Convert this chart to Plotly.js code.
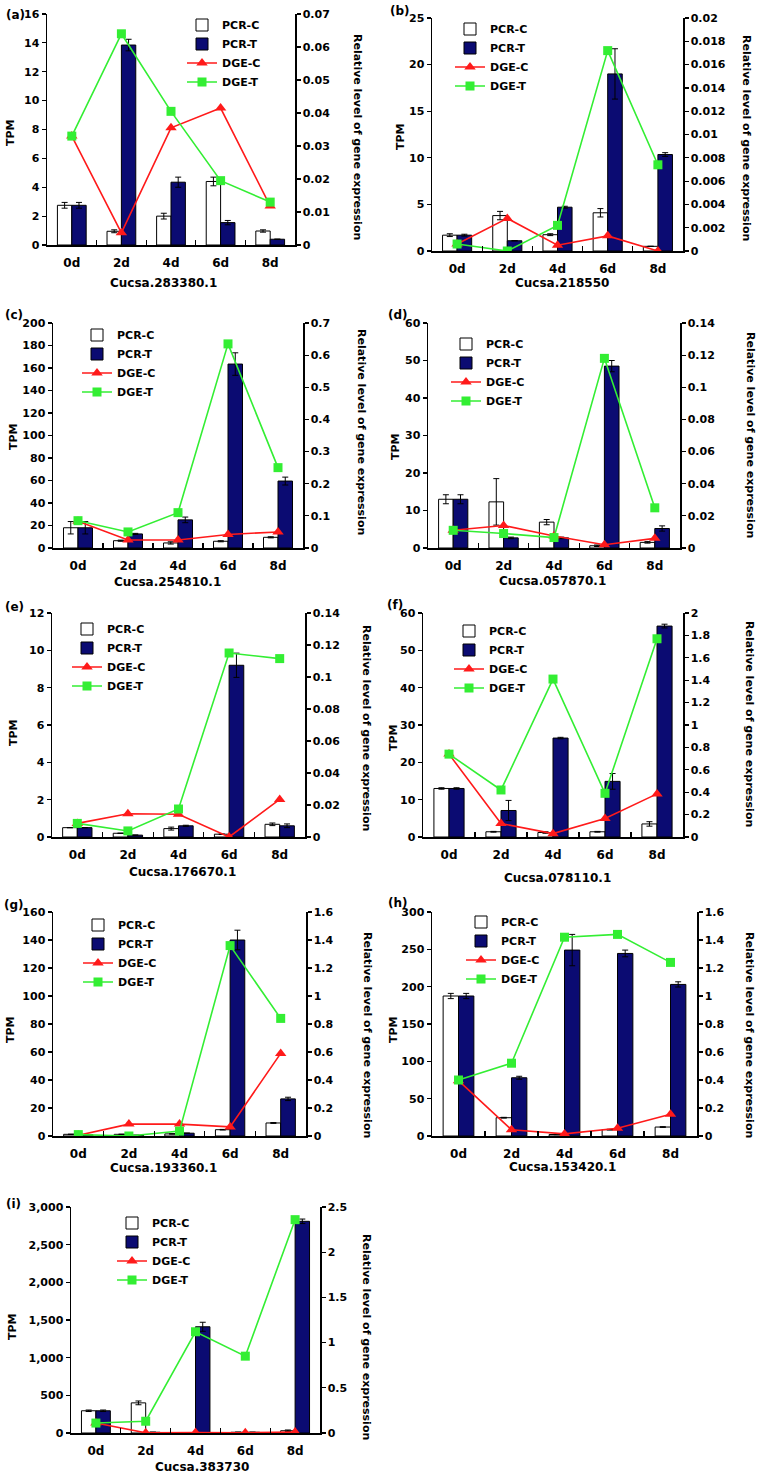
<!DOCTYPE html>
<html>
<head>
<meta charset="utf-8">
<script src="https://cdn.plot.ly/plotly-3.0.1.min.js"></script>
<style>html,body{margin:0;padding:0;background:#fff;}</style>
</head>
<body>
<div id="chart" style="width:759px;height:1477px;"></div>
<script>
// ---------------- DATA ----------------
const days = ['0d', '2d', '4d', '6d', '8d'];
const genes = ['Cucsa.283380.1', 'Cucsa.218550', 'Cucsa.254810.1', 'Cucsa.057870.1', 'Cucsa.176670.1',
               'Cucsa.078110.1', 'Cucsa.193360.1', 'Cucsa.153420.1', 'Cucsa.383730'];
const panelLabels = ['(a)', '(b)', '(c)', '(d)', '(e)', '(f)', '(g)', '(h)', '(i)'];
const seriesNames = ['PCR-C', 'PCR-T', 'DGE-C', 'DGE-T'];
const leftTitle = 'TPM';
const rightTitle = 'Relative level of gene expression';

const pcrC_a = [2.75, 0.95, 2.0, 4.4, 0.97];   const pcrCErr_a = [0.2, 0.1, 0.2, 0.3, 0.08];
const pcrT_a = [2.75, 13.85, 4.35, 1.55, 0.4]; const pcrTErr_a = [0.2, 0.4, 0.35, 0.15, 0];
const dgeC_a = [0.033, 0.0037, 0.0355, 0.0415, 0.0118];
const dgeT_a = [0.033, 0.064, 0.0405, 0.0195, 0.013];

const pcrC_b = [1.7, 3.8, 1.75, 4.1, 0.5];     const pcrCErr_b = [0.15, 0.45, 0.1, 0.45, 0];
const pcrT_b = [1.7, 1.1, 4.7, 19.0, 10.35];   const pcrTErr_b = [0.1, 0, 0.1, 2.7, 0.2];
const dgeC_b = [0.0006, 0.0028, 0.0005, 0.0013, 0];
const dgeT_b = [0.0006, 0, 0.0022, 0.0172, 0.0074];

const pcrC_c = [18, 6.5, 4.5, 6, 9.5];         const pcrCErr_c = [5.5, 0.5, 1, 0.5, 0.5];
const pcrT_c = [18, 12.5, 25, 163.5, 59.5];    const pcrTErr_c = [5.5, 0.5, 2.5, 10, 3.5];
const dgeC_c = [0.083, 0.025, 0.025, 0.042, 0.05];
const dgeT_c = [0.085, 0.05, 0.11, 0.635, 0.25];

const pcrC_d = [13, 12.3, 6.9, 0.6, 1.5];      const pcrCErr_d = [1.2, 6.2, 0.7, 0.2, 0.2];
const pcrT_d = [13, 2.7, 2.7, 48.5, 5.2];      const pcrTErr_d = [1.2, 0.2, 0.2, 1.5, 0.7];
const dgeC_d = [0.011, 0.014, 0.0075, 0.002, 0.006];
const dgeT_d = [0.011, 0.009, 0.0065, 0.118, 0.025];

const pcrC_e = [0.5, 0.2, 0.45, 0.15, 0.68];   const pcrCErr_e = [0, 0, 0.08, 0, 0.07];
const pcrT_e = [0.5, 0.1, 0.6, 9.2, 0.6];      const pcrTErr_e = [0, 0, 0.03, 0.65, 0.1];
const dgeC_e = [0.0085, 0.0145, 0.0142, 0, 0.0235];
const dgeT_e = [0.0085, 0.0038, 0.0175, 0.115, 0.1115];

const pcrC_f = [13, 1.4, 1.2, 1.4, 3.5];       const pcrCErr_f = [0.2, 0.1, 0.2, 0.1, 0.6];
const pcrT_f = [13, 7.1, 26.5, 14.9, 56.5];    const pcrTErr_f = [0.2, 2.7, 0.2, 2.1, 0.5];
const dgeC_f = [0.74, 0.12, 0.03, 0.165, 0.385];
const dgeT_f = [0.74, 0.42, 1.41, 0.39, 1.77];

const pcrC_g = [1.2, 1.2, 1.5, 4.5, 9.3];      const pcrCErr_g = [0.1, 0.1, 0.1, 0.2, 0.3];
const pcrT_g = [0.8, 0.5, 2, 140, 26.5];       const pcrTErr_g = [0, 0, 0, 7, 1.2];
const dgeC_g = [0.005, 0.085, 0.085, 0.065, 0.59];
const dgeT_g = [0.01, 0, 0.035, 1.36, 0.84];

const pcrC_h = [187.5, 24.5, 2, 8.5, 12];      const pcrCErr_h = [3.5, 0.5, 0.3, 0.5, 0.5];
const pcrT_h = [187.5, 78, 249, 244.5, 203];   const pcrTErr_h = [3.5, 2, 21, 4.5, 3.5];
const dgeC_h = [0.395, 0.045, 0.015, 0.055, 0.155];
const dgeT_h = [0.4, 0.52, 1.42, 1.44, 1.24];

const pcrC_i = [295, 400, 5, 10, 30];          const pcrCErr_i = [10, 25, 1, 2, 10];
const pcrT_i = [295, 10, 1410, 10, 2810];      const pcrTErr_i = [10, 0, 60, 0, 30];
const dgeC_i = [0.11, 0.002, 0.005, 0.003, 0.01];
const dgeT_i = [0.11, 0.13, 1.12, 0.85, 2.36];

// axis scales (max, tick step)
const leftMax   = [16, 25, 200, 60, 12, 60, 160, 300, 3000];
const leftStep  = [2, 5, 20, 10, 2, 10, 20, 50, 500];
const rightMax  = [0.07, 0.02, 0.7, 0.14, 0.14, 2, 1.6, 1.6, 2.5];
const rightStep = [0.01, 0.002, 0.1, 0.02, 0.02, 0.2, 0.2, 0.2, 0.5];

const pcrC = [pcrC_a, pcrC_b, pcrC_c, pcrC_d, pcrC_e, pcrC_f, pcrC_g, pcrC_h, pcrC_i];
const pcrCErr = [pcrCErr_a, pcrCErr_b, pcrCErr_c, pcrCErr_d, pcrCErr_e, pcrCErr_f, pcrCErr_g, pcrCErr_h, pcrCErr_i];
const pcrT = [pcrT_a, pcrT_b, pcrT_c, pcrT_d, pcrT_e, pcrT_f, pcrT_g, pcrT_h, pcrT_i];
const pcrTErr = [pcrTErr_a, pcrTErr_b, pcrTErr_c, pcrTErr_d, pcrTErr_e, pcrTErr_f, pcrTErr_g, pcrTErr_h, pcrTErr_i];
const dgeC = [dgeC_a, dgeC_b, dgeC_c, dgeC_d, dgeC_e, dgeC_f, dgeC_g, dgeC_h, dgeC_i];
const dgeT = [dgeT_a, dgeT_b, dgeT_c, dgeT_d, dgeT_e, dgeT_f, dgeT_g, dgeT_h, dgeT_i];

// ---------------- LAYOUT (pixel geometry) ----------------
const W = 759, H = 1477;
// plot boxes: [left, right, top, bottom] in px
const boxes = [
  [47, 295, 14, 245], [432, 683, 18, 251],
  [53, 303, 323, 548], [428, 680, 323, 548],
  [52, 305, 613, 837], [423, 683, 613, 837],
  [53, 306, 912, 1136], [432, 697, 912, 1136],
  [71, 320, 1207, 1433]
];
const xTitlePos = [[163, 283], [562, 283], [167, 582], [552, 581], [182, 872], [557, 878], [163, 1168], [562, 1167], [202, 1467]];
const tpmPos = [[10, 133], [400, 137], [13, 437], [395, 447], [13, 733], [393, 738], [10, 1030], [393, 1030], [12, 1327]];
const rTitlePos = [[358, 137], [747, 138], [362, 432], [750, 435], [367, 728], [750, 724], [368, 1035], [750, 1035], [367, 1337]];
const labelPos = [[15, 15], [400, 11], [14, 315], [398, 315], [14, 607], [395, 605], [14, 905], [398, 903], [13, 1204]];
const legendPos = [[222, 28], [490, 32], [117, 338], [486, 347], [107, 632], [489, 634], [118, 928], [501, 925], [152, 1226]];

const FONT = 'DejaVu Sans, Verdana, sans-serif';
const NAVY = '#0b0b72';
const RED = '#ff1a1a';
const GREEN = '#33ee33';

const px = v => v / W;
const py = v => 1 - v / H;

const traces = [];
const layout = {
  width: W, height: H,
  margin: {l: 0, r: 0, t: 0, b: 0},
  paper_bgcolor: '#ffffff', plot_bgcolor: '#ffffff',
  barmode: 'group', bargap: 0.42, bargroupgap: 0,
  font: {family: FONT, color: '#000', size: 11},
  annotations: []
};

for (let k = 0; k < 9; k++) {
  const n = k + 1;
  const xa = 'x' + n, yl = 'y' + n, yr = 'y' + (n + 9);
  const leg = k === 0 ? 'legend' : 'legend' + n;
  const b = boxes[k];

  traces.push({
    type: 'bar', name: seriesNames[0], x: days, y: pcrC[k], xaxis: xa, yaxis: yl, legend: leg,
    marker: {color: '#ffffff', line: {color: '#000', width: 1}},
    error_y: {type: 'data', array: pcrCErr[k], visible: true, color: '#000', thickness: 1, width: 3},
    offsetgroup: 'c'
  });
  traces.push({
    type: 'bar', name: seriesNames[1], x: days, y: pcrT[k], xaxis: xa, yaxis: yl, legend: leg,
    marker: {color: NAVY, line: {color: '#000', width: 1}},
    error_y: {type: 'data', array: pcrTErr[k], visible: true, color: '#000', thickness: 1, width: 3},
    offsetgroup: 't'
  });
  traces.push({
    type: 'scatter', mode: 'lines+markers', name: seriesNames[2], x: days, y: dgeC[k], xaxis: xa, yaxis: yr, legend: leg,
    line: {color: RED, width: 1.6}, marker: {symbol: 'triangle-up', size: 10, color: RED}
  });
  traces.push({
    type: 'scatter', mode: 'lines+markers', name: seriesNames[3], x: days, y: dgeT[k], xaxis: xa, yaxis: yr, legend: leg,
    line: {color: GREEN, width: 1.6}, marker: {symbol: 'square', size: 9, color: GREEN}
  });

  const xd = [px(b[0]), px(b[1])];
  const yd = [py(b[3]), py(b[2])];

  layout['xaxis' + n] = {
    domain: xd, anchor: yl, type: 'category', range: [-0.5, 4.5],
    showline: true, linecolor: '#000', linewidth: 1.5, mirror: false,
    ticks: 'inside', tickson: 'boundaries', ticklen: 5, tickwidth: 1.2, tickcolor: '#000',
    tickfont: {family: FONT, size: 12, weight: 'bold', color: '#000'},
    ticklabelstandoff: 6, showgrid: false, zeroline: false, fixedrange: true
  };
  layout['yaxis' + n] = {
    domain: yd, anchor: xa, range: [0, leftMax[k]], dtick: leftStep[k], tick0: 0,
    showline: true, linecolor: '#000', linewidth: 1.5,
    ticks: 'outside', ticklen: 4, tickwidth: 1.2, tickcolor: '#000',
    tickfont: {family: FONT, size: 11, weight: 'bold', color: '#000'},
    tickformat: leftMax[k] >= 1000 ? ',d' : '',
    showgrid: false, zeroline: false, fixedrange: true
  };
  layout['yaxis' + (n + 9)] = {
    domain: yd, anchor: xa, overlaying: yl, side: 'right',
    range: [0, rightMax[k]], dtick: rightStep[k], tick0: 0,
    showline: true, linecolor: '#000', linewidth: 1.5,
    ticks: 'outside', ticklen: 4, tickwidth: 1.2, tickcolor: '#000',
    tickfont: {family: FONT, size: 11, weight: 'bold', color: '#000'},
    showgrid: false, zeroline: false, fixedrange: true
  };
  layout[leg] = {
    x: px(legendPos[k][0] - 40), y: py(legendPos[k][1] - 17.5), xref: 'paper', yref: 'paper',
    xanchor: 'left', yanchor: 'top', bgcolor: 'rgba(0,0,0,0)', borderwidth: 0,
    font: {family: FONT, size: 11, weight: 'bold', color: '#000'},
    tracegroupgap: 0, itemwidth: 30, traceorder: 'normal'
  };

  layout.annotations.push({
    text: genes[k], xref: 'paper', yref: 'paper', x: px(xTitlePos[k][0]), y: py(xTitlePos[k][1]),
    xanchor: 'center', yanchor: 'middle', showarrow: false,
    font: {family: FONT, size: 12, weight: 'bold', color: '#000'}
  });
  layout.annotations.push({
    text: leftTitle, xref: 'paper', yref: 'paper', x: px(tpmPos[k][0]), y: py(tpmPos[k][1]),
    xanchor: 'center', yanchor: 'middle', showarrow: false, textangle: -90,
    font: {family: FONT, size: 11, weight: 'bold', color: '#000'}
  });
  layout.annotations.push({
    text: rightTitle, xref: 'paper', yref: 'paper', x: px(rTitlePos[k][0]), y: py(rTitlePos[k][1]),
    xanchor: 'center', yanchor: 'middle', showarrow: false, textangle: 90,
    font: {family: FONT, size: 11, weight: 'bold', color: '#000'}
  });
  layout.annotations.push({
    text: panelLabels[k], xref: 'paper', yref: 'paper', x: px(labelPos[k][0]), y: py(labelPos[k][1]),
    xanchor: 'center', yanchor: 'middle', showarrow: false,
    font: {family: FONT, size: 12, weight: 'bold', color: '#000'}
  });
}

Plotly.newPlot('chart', traces, layout, {staticPlot: true, displayModeBar: false});
</script>
</body>
</html>
